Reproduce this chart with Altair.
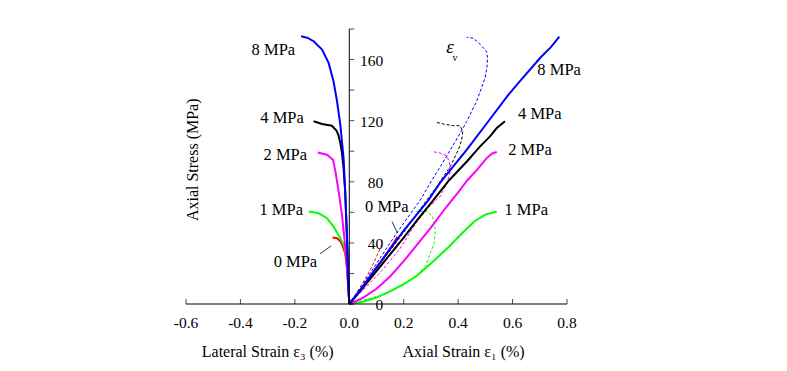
import altair as alt
import pandas as pd

# ---------------- data ----------------
series_keys = ["0", "1", "2", "4", "8"]
series_colors = ["#FF0000", "#00FF00", "#FF00FF", "#000000", "#0000FF"]

# axial strain eps1 (solid)
ax0_x = [0, 0.04, 0.08, 0.12, 0.16, 0.177]
ax0_y = [0, 9, 18.5, 28.5, 39, 44]
ax1_x = [0, 0.05, 0.1, 0.15, 0.2, 0.245, 0.3, 0.367, 0.41, 0.459, 0.5, 0.542]
ax1_y = [0, 1.5, 4.2, 8.2, 13, 18, 26.5, 37.6, 45.5, 54, 58.5, 60.5]
ax2_x = [0, 0.05, 0.1, 0.15, 0.2, 0.25, 0.3, 0.35, 0.4, 0.434, 0.47, 0.505, 0.525, 0.542]
ax2_y = [0, 4, 10, 18, 28, 39, 50, 62, 73, 81, 88, 95.5, 98.5, 99.5]
ax4_x = [0, 0.05, 0.1, 0.15, 0.2, 0.25, 0.309, 0.367, 0.432, 0.48, 0.517, 0.542, 0.572]
ax4_y = [0, 10.5, 21.5, 32.5, 43.5, 55, 68, 81, 93.3, 103, 109.7, 115.2, 119.6]
ax8_x = [0, 0.05, 0.1, 0.15, 0.2, 0.291, 0.336, 0.432, 0.5, 0.585, 0.628, 0.701, 0.74, 0.772]
ax8_y = [0, 11.5, 24, 36, 48, 68, 80, 101, 117, 137, 146, 161, 168, 175]

# lateral strain eps3 (solid)
lat0_x = [0, -0.005, -0.01, -0.015, -0.025, -0.033, -0.045, -0.061]
lat0_y = [0, 15, 26, 33, 38.5, 41, 43, 43.5]
lat1_x = [0, -0.002, -0.004, -0.008, -0.015, -0.018, -0.033, -0.058, -0.082, -0.113, -0.149]
lat1_y = [0, 10, 20, 28, 34.3, 37.6, 43.1, 50.7, 56.2, 59.5, 60.5]
lat2_x = [0, -0.004, -0.011, -0.018, -0.027, -0.039, -0.051, -0.06, -0.082, -0.116]
lat2_y = [0, 12, 30, 43.1, 58.4, 73.6, 86.8, 94.4, 97.7, 99.2]
lat4_x = [0, -0.003, -0.008, -0.015, -0.021, -0.027, -0.033, -0.04, -0.047, -0.064, -0.1, -0.131]
lat4_y = [0, 12.5, 40.9, 73.6, 89, 99, 105.5, 110.5, 113.5, 116.7, 117.8, 119.6]
lat8_x = [0, -0.003, -0.008, -0.015, -0.021, -0.033, -0.045, -0.058, -0.076, -0.1, -0.131, -0.155, -0.177]
lat8_y = [0, 12.5, 40.9, 73.6, 95.5, 117.4, 132.7, 145.8, 157.8, 166.6, 172, 174.3, 175.3]

# volumetric strain eps_v (dashed)
vol0_x = [0, 0.04, 0.07, 0.09, 0.105, 0.115, 0.122, 0.118]
vol0_y = [0, 11, 20, 27, 33, 37, 40, 42.5]
vol1_x = [0, 0.122, 0.2, 0.25, 0.28, 0.291, 0.3, 0.312, 0.316, 0.306, 0.287, 0.245]
vol1_y = [0, 6, 13, 19, 25, 30, 34.3, 39.8, 48.5, 57.3, 60.5, 60.5]
vol2_x = [0, 0.05, 0.122, 0.183, 0.245, 0.29, 0.334, 0.358, 0.37, 0.368, 0.358, 0.334, 0.303]
vol2_y = [0, 9, 22.3, 35.4, 52.9, 63, 70.4, 79, 86, 93, 97, 98.8, 99.9]
vol4_x = [0, 0.1, 0.2, 0.26, 0.322, 0.346, 0.371, 0.401, 0.413, 0.417, 0.407, 0.383, 0.346, 0.316]
vol4_y = [0, 23, 47, 62, 77, 83.5, 90, 101, 107.5, 113, 116.7, 116.7, 117.8, 119.1]
vol8_x = [0, 0.05, 0.1, 0.15, 0.2, 0.261, 0.3, 0.35, 0.4, 0.432, 0.468, 0.499, 0.506, 0.508, 0.505, 0.493, 0.475, 0.455, 0.432]
vol8_y = [0, 13, 26.5, 40, 53, 68, 80, 94.5, 109.5, 119.6, 132.7, 148, 155, 161, 165, 167.6, 171, 174, 174.6]

# axis ticks
x_ticks = [-0.6, -0.4, -0.2, 0.0, 0.2, 0.4, 0.6, 0.8]
x_tick_labels = ["-0.6", "-0.4", "-0.2", "0.0", "0.2", "0.4", "0.6", "0.8"]
y_ticks = [0, 20, 40, 60, 80, 100, 120, 140, 160, 180]
y_label_vals = [0, 40, 80, 120, 160]

# curve labels
lab_text = ["8 MPa", "4 MPa", "2 MPa", "1 MPa", "0 MPa", "8 MPa", "4 MPa", "2 MPa", "1 MPa", "0 MPa"]
lab_x = [-0.279, -0.247, -0.235, -0.25, -0.198, 0.771, 0.70, 0.664, 0.65, 0.138]
lab_y = [166, 121.7, 97.7, 61.6, 27.7, 153.4, 124.6, 100.5, 61.6, 63.8]

# leader lines for the "0 MPa" labels
lead_x = [-0.108, 0.157]
lead_y = [32.8, 54]
lead_x2 = [-0.067, 0.177]
lead_y2 = [38, 46.4]

# ---------------- build tables ----------------
def rows(key, xs, ys, kind):
    return [{"s": key, "kind": kind + key, "i": i, "x": a, "y": b}
            for i, (a, b) in enumerate(zip(xs, ys))]

solid = []
for k, xs, ys in [("0", ax0_x, ax0_y), ("1", ax1_x, ax1_y), ("2", ax2_x, ax2_y),
                  ("4", ax4_x, ax4_y), ("8", ax8_x, ax8_y)]:
    solid += rows(k, xs, ys, "a")
for k, xs, ys in [("0", lat0_x, lat0_y), ("1", lat1_x, lat1_y), ("2", lat2_x, lat2_y),
                  ("4", lat4_x, lat4_y), ("8", lat8_x, lat8_y)]:
    solid += rows(k, xs, ys, "l")
dashed = []
for k, xs, ys in [("0", vol0_x, vol0_y), ("1", vol1_x, vol1_y), ("2", vol2_x, vol2_y),
                  ("4", vol4_x, vol4_y), ("8", vol8_x, vol8_y)]:
    dashed += rows(k, xs, ys, "v")

solid_df = pd.DataFrame(solid)
dashed_df = pd.DataFrame(dashed)

FONT = "Liberation Serif"
xs = alt.Scale(domain=[-0.6, 0.8], nice=False, zero=False)
ys = alt.Scale(domain=[0, 180], nice=False, zero=False)
X = lambda f: alt.X(f, type="quantitative", scale=xs, axis=None)
Y = lambda f: alt.Y(f, type="quantitative", scale=ys, axis=None)
col = alt.Color("s:N", scale=alt.Scale(domain=series_keys, range=series_colors), legend=None)

dashed_layer = alt.Chart(dashed_df).mark_line(strokeWidth=1, strokeDash=[3, 2]).encode(
    x=X("x"), y=Y("y"), color=col, detail="kind:N", order="i:Q")
solid_layer = alt.Chart(solid_df).mark_line(strokeWidth=2).encode(
    x=X("x"), y=Y("y"), color=col, detail="kind:N", order="i:Q")

# axes drawn from tick arrays
xaxis_df = pd.DataFrame({"x": [x_ticks[0]], "x2": [x_ticks[-1]], "y": [0]})
yaxis_df = pd.DataFrame({"x": [0], "y": [y_ticks[0]], "y2": [y_ticks[-1]]})
x_line = alt.Chart(xaxis_df).mark_rule(color="black", strokeWidth=1).encode(
    x=X("x"), x2="x2", y=Y("y"))
y_line = alt.Chart(yaxis_df).mark_rule(color="black", strokeWidth=1).encode(
    x=X("x"), y=Y("y"), y2="y2")

xt_df = pd.DataFrame({"x": x_ticks, "y": [0] * len(x_ticks), "t": x_tick_labels})
x_tk = alt.Chart(xt_df).mark_tick(orient="vertical", size=5, thickness=1, color="black", yOffset=-2.5).encode(
    x=X("x"), y=Y("y"))
x_lb = alt.Chart(xt_df).mark_text(font=FONT, fontSize=15.5, dy=19, baseline="middle", color="black").encode(
    x=X("x"), y=Y("y"), text="t:N")

yt_df = pd.DataFrame({"x": [0] * len(y_ticks), "y": y_ticks})
y_tk = alt.Chart(yt_df).mark_tick(orient="horizontal", size=5, thickness=1, color="black", xOffset=2.5).encode(
    x=X("x"), y=Y("y"))
yl_df = pd.DataFrame({"x": [0] * len(y_label_vals), "y": y_label_vals, "t": [str(v) for v in y_label_vals]})
y_lb = alt.Chart(yl_df).mark_text(font=FONT, fontSize=15.5, align="right", dx=34, dy=1, baseline="middle", color="black").encode(
    x=X("x"), y=Y("y"), text="t:N")

lab_df = pd.DataFrame({"x": lab_x, "y": lab_y, "t": lab_text})
labels = alt.Chart(lab_df).mark_text(font=FONT, fontSize=16.5, baseline="middle", color="black").encode(
    x=X("x"), y=Y("y"), text="t:N")

lead_df = pd.DataFrame({"x": lead_x, "y": lead_y, "x2": lead_x2, "y2": lead_y2})
leads = alt.Chart(lead_df).mark_rule(color="black", strokeWidth=0.8).encode(
    x=X("x"), y=Y("y"), x2="x2", y2="y2")

# eps_v label
ev_df = pd.DataFrame({"x": [0.37], "y": [168.5], "t": ["ε"]})
ev = alt.Chart(ev_df).mark_text(font=FONT, fontSize=19, fontStyle="italic", baseline="middle", color="black").encode(
    x=X("x"), y=Y("y"), text="t:N")
evs_df = pd.DataFrame({"x": [0.388], "y": [161], "t": ["v"]})
evs = alt.Chart(evs_df).mark_text(font=FONT, fontSize=10, baseline="middle", color="black").encode(
    x=X("x"), y=Y("y"), text="t:N")

# axis titles
tt_df = pd.DataFrame({"x": [-0.30, 0.42], "y": [0, 0], "t": ["Lateral Strain ε₃ (%)", "Axial Strain ε₁ (%)"]})
titles = alt.Chart(tt_df).mark_text(font=FONT, fontSize=16, dy=48, baseline="middle", color="black").encode(
    x=X("x"), y=Y("y"), text="t:N")
yt_title_df = pd.DataFrame({"x": [-0.573], "y": [94.4], "t": ["Axial Stress (MPa)"]})
ytitle = alt.Chart(yt_title_df).mark_text(font=FONT, fontSize=16, angle=270, baseline="middle", color="black").encode(
    x=X("x"), y=Y("y"), text="t:N")

chart = alt.layer(
    dashed_layer, solid_layer, x_line, y_line, x_tk, x_lb, y_tk, y_lb,
    labels, leads, ev, evs, titles, ytitle
).properties(
    width=381, height=275,
    autosize=alt.AutoSizeParams(type="none"),
    padding={"left": 178, "top": 21, "right": 212, "bottom": 60},
    background="white",
).configure_view(stroke=None)

chart.save("out.html", embed_options={"renderer": "svg", "actions": False})
